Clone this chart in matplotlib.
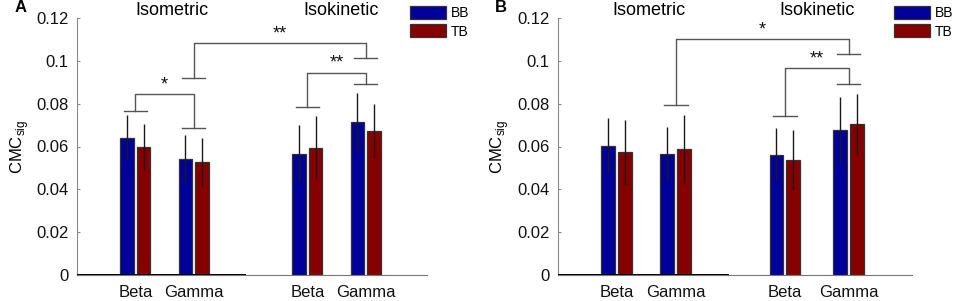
import matplotlib
matplotlib.use('Agg')
import matplotlib.pyplot as plt
from matplotlib.patches import Patch

plt.rcParams['font.family'] = ['Liberation Sans', 'DejaVu Sans']
plt.rcParams['mathtext.fontset'] = 'custom'
plt.rcParams['mathtext.rm'] = 'Liberation Sans'

# data
bands = ['Beta', 'Gamma', 'Beta', 'Gamma']
conditions = ['Isometric', 'Isokinetic']

bb_a = [0.0641, 0.0542, 0.0566, 0.0716]
tb_a = [0.0599, 0.0529, 0.0594, 0.0672]
bb_a_err = [0.0106, 0.0112, 0.0133, 0.0135]
tb_a_err = [0.0108, 0.0112, 0.0147, 0.0125]

bb_b = [0.0604, 0.0564, 0.0562, 0.0679]
tb_b = [0.0572, 0.0588, 0.0537, 0.0703]
bb_b_err = [0.0130, 0.0126, 0.0125, 0.0153]
tb_b_err = [0.0151, 0.0157, 0.0139, 0.0142]

# brackets: (group i, group j, line level, left foot, right foot, label)
brackets_a = [(0, 1, 0.0843, 0.0767, 0.0688, '*'),
              (1, 3, 0.1085, 0.0921, 0.1012, '**'),
              (2, 3, 0.0945, 0.0783, 0.0893, '**')]
brackets_b = [(1, 3, 0.1102, 0.0792, 0.1033, '*'),
              (2, 3, 0.0967, 0.0742, 0.0893, '**')]

blue = '#00009a'
red = '#870000'
edge = '#333333'
grey = '#555555'


def draw_panel(ax, pos, bb, tb, bb_err, tb_err, brackets, letter, title_x, leg_x):
    off = 0.142
    w = 0.232
    ax.bar([p - off for p in pos], bb, w, color=blue, edgecolor=edge, linewidth=0.9, zorder=2)
    ax.bar([p + off for p in pos], tb, w, color=red, edgecolor=edge, linewidth=0.9, zorder=2)
    ax.errorbar([p - off for p in pos], bb, yerr=bb_err, fmt='none', ecolor='#1a1a1a',
                elinewidth=1.0, capsize=0, zorder=3)
    ax.errorbar([p + off for p in pos], tb, yerr=tb_err, fmt='none', ecolor='#1a1a1a',
                elinewidth=1.0, capsize=0, zorder=3)

    # significance brackets
    for i, j, yl, y1, y2, lab in brackets:
        xi, xj = pos[i], pos[j]
        ax.plot([xi, xi, xj, xj], [y1, yl, yl, y2], color=grey, lw=1.0, zorder=4)
        ax.plot([xi - 0.2, xi + 0.2], [y1, y1], color=grey, lw=1.0, zorder=4)
        ax.plot([xj - 0.2, xj + 0.2], [y2, y2], color=grey, lw=1.0, zorder=4)
        ax.text((xi + xj) / 2, yl + 0.0003, lab, ha='center', va='bottom',
                fontsize=13, color='#111111')

    ax.set_xlim(0, 6)
    ax.set_ylim(0, 0.12)
    ax.set_yticks([0, 0.02, 0.04, 0.06, 0.08, 0.1, 0.12])
    ax.set_yticklabels(['0', '0.02', '0.04', '0.06', '0.08', '0.1', '0.12'])
    ax.set_xticks(pos)
    ax.set_xticklabels(bands)
    ax.tick_params(axis='x', length=0, labelsize=12, colors='#111111', pad=7)
    ax.tick_params(axis='y', direction='in', length=2.5, width=0.8, color='#888888',
                   labelsize=12, labelcolor='#111111', pad=6)
    for s in ['top', 'right']:
        ax.spines[s].set_visible(False)
    ax.spines['left'].set_color('#888888')
    ax.spines['bottom'].set_color('#777777')
    ax.axhline(0, xmin=0, xmax=0.48, color='black', lw=1.4, zorder=3)
    ax.set_ylabel(r'CMC$_{\mathrm{sig}}$', fontsize=12, labelpad=4)

    for tx, cond in zip(title_x, conditions):
        ax.text(tx, 1.012, cond, transform=ax.get_xaxis_transform(),
                ha='center', va='baseline', fontsize=13)
    ax.text(-0.16, 1.04, letter, transform=ax.transAxes, fontsize=12,
            fontweight='bold', ha='center', va='center')

    handles = [Patch(facecolor=blue, edgecolor=edge, lw=0.9),
               Patch(facecolor=red, edgecolor=edge, lw=0.9)]
    ax.legend(handles, ['BB', 'TB'], loc='upper left', bbox_to_anchor=(leg_x, 1.046),
              frameon=False, fontsize=10, handlelength=2.57, handleheight=1.04,
              handletextpad=0.36, labelspacing=0.3, borderpad=0, borderaxespad=0)


fig = plt.figure(figsize=(9.57, 3.01), dpi=100)
ax_a = fig.add_axes([77 / 957, 26 / 301, 350 / 957, 257 / 301])
ax_b = fig.add_axes([557.7 / 957, 26 / 301, 354 / 957, 257 / 301])

draw_panel(ax_a, [1, 2, 3.95, 4.95], bb_a, tb_a, bb_a_err, tb_a_err, brackets_a, 'A',
           [1.63, 4.53], 0.951)
draw_panel(ax_b, [1, 2, 3.85, 4.93], bb_b, tb_b, bb_b_err, tb_b_err, brackets_b, 'B',
           [1.55, 4.39], 0.95)

fig.savefig('out.png', dpi=100)
